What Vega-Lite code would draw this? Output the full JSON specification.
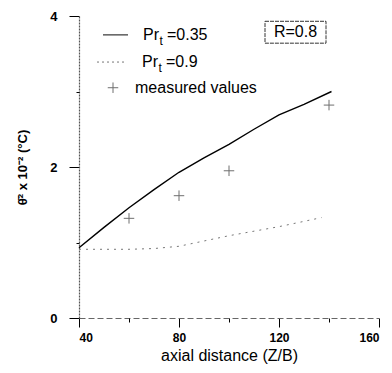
{
  "$schema": "https://vega.github.io/schema/vega-lite/v6.json",
  "width": 300,
  "height": 302,
  "autosize": {"type": "none"},
  "padding": {"left": 79, "top": 16, "right": 13, "bottom": 55},
  "background": "white",
  "config": {
    "view": {"stroke": null},
    "font": "Liberation Sans",
    "axis": {"grid": false, "labelColor": "black", "tickColor": "black", "titleColor": "black", "labelFont": "Liberation Sans", "titleFont": "Liberation Sans", "ticks": true, "tickWidth": 1}
  },
  "resolve": {"axis": {"x": "independent", "y": "independent"}},
  "datasets": {
    "solid": [
      {"z": 40, "v": 0.93}, {"z": 50, "v": 1.2}, {"z": 60, "v": 1.46}, {"z": 70, "v": 1.7},
      {"z": 80, "v": 1.93}, {"z": 90, "v": 2.12}, {"z": 100, "v": 2.3}, {"z": 110, "v": 2.5},
      {"z": 120, "v": 2.69}, {"z": 130, "v": 2.83}, {"z": 141, "v": 3.0}
    ],
    "dotted": [
      {"z": 40, "v": 0.91}, {"z": 50, "v": 0.91}, {"z": 60, "v": 0.91}, {"z": 70, "v": 0.92},
      {"z": 80, "v": 0.95}, {"z": 90, "v": 1.02}, {"z": 100, "v": 1.09}, {"z": 110, "v": 1.15},
      {"z": 120, "v": 1.21}, {"z": 130, "v": 1.28}, {"z": 137, "v": 1.33}
    ],
    "measured": [
      {"z": 60, "v": 1.32}, {"z": 80, "v": 1.62}, {"z": 100, "v": 1.95}, {"z": 140, "v": 2.82}
    ],
    "legendSolid": [{"x": 49.6, "x2": 59.6, "y": 3.75}],
    "legendDotted": [{"x": 47.2, "x2": 59.2, "y": 3.39}],
    "legendCross": [{"x": 53.6, "y": 3.05}],
    "legendMain": [
      {"x": 65.6, "y": 3.75, "t": "Pr"},
      {"x": 75.2, "y": 3.75, "t": "=0.35"},
      {"x": 65.2, "y": 3.39, "t": "Pr"},
      {"x": 74.8, "y": 3.39, "t": "=0.9"},
      {"x": 62.4, "y": 3.05, "t": "measured values"}
    ],
    "legendSub": [
      {"x": 72.2, "y": 3.67, "t": "t"},
      {"x": 71.8, "y": 3.31, "t": "t"}
    ],
    "box": [{"x": 114.4, "x2": 138.8, "y": 3.93, "y2": 3.64, "cx": 126.6, "cy": 3.785, "t": "R=0.8"}]
  },
  "layer": [
    {
      "data": {"name": "solid"},
      "mark": {"type": "line", "color": "black", "strokeWidth": 1.4},
      "encoding": {
        "x": {
          "field": "z", "type": "quantitative",
          "scale": {"domain": [40, 160], "nice": false},
          "axis": {
            "orient": "bottom",
            "values": [40, 80, 120, 160],
            "format": "d",
            "tickSize": 9,
            "labelPadding": 5,
            "labelFontSize": 12, "labelFontWeight": "bold",
            "domainColor": "#666", "domainDash": [6, 3], "domainWidth": 1,
            "title": "axial distance (Z/B)", "titleFontSize": 16, "titleFontWeight": "normal", "titlePadding": 4
          }
        },
        "y": {
          "field": "v", "type": "quantitative",
          "scale": {"domain": [0, 4], "nice": false},
          "axis": {
            "orient": "left",
            "values": [0, 2, 4],
            "format": "d",
            "tickSize": 10,
            "labelPadding": 12,
            "labelFontSize": 13, "labelFontWeight": "bold",
            "domainColor": "#555", "domainDash": [2, 1], "domainWidth": 1.2,
            "title": "θ̄² x 10⁻² (°C)", "titleFontSize": 13, "titleFontWeight": "bold", "titlePadding": 20
          }
        }
      }
    },
    {
      "data": {"name": "dotted"},
      "mark": {"type": "line", "color": "#777", "strokeWidth": 1, "strokeDash": [2, 5]},
      "encoding": {
        "x": {"field": "z", "type": "quantitative", "axis": {"orient": "bottom", "values": [60, 100, 140], "tickSize": 4, "labels": false, "domain": false, "title": null}},
        "y": {"field": "v", "type": "quantitative", "axis": {"orient": "left", "values": [1, 3], "tickSize": 3, "labels": false, "domain": false, "title": null}}
      }
    },
    {
      "data": {"name": "measured"},
      "mark": {"type": "point", "shape": "M-1,0L1,0M0,-1L0,1", "filled": false, "color": "#333", "strokeWidth": 1, "size": 110},
      "encoding": {"x": {"field": "z", "type": "quantitative", "axis": null}, "y": {"field": "v", "type": "quantitative", "axis": null}}
    },
    {
      "data": {"name": "legendSolid"},
      "mark": {"type": "rule", "color": "#333", "strokeWidth": 1.2},
      "encoding": {"x": {"field": "x", "type": "quantitative", "axis": null}, "x2": {"field": "x2"}, "y": {"field": "y", "type": "quantitative", "axis": null}}
    },
    {
      "data": {"name": "legendDotted"},
      "mark": {"type": "rule", "color": "#777", "strokeWidth": 1, "strokeDash": [2, 3]},
      "encoding": {"x": {"field": "x", "type": "quantitative", "axis": null}, "x2": {"field": "x2"}, "y": {"field": "y", "type": "quantitative", "axis": null}}
    },
    {
      "data": {"name": "legendCross"},
      "mark": {"type": "point", "shape": "M-1,0L1,0M0,-1L0,1", "filled": false, "color": "#333", "strokeWidth": 1, "size": 110},
      "encoding": {"x": {"field": "x", "type": "quantitative", "axis": null}, "y": {"field": "y", "type": "quantitative", "axis": null}}
    },
    {
      "data": {"name": "legendMain"},
      "mark": {"type": "text", "align": "left", "baseline": "middle", "fontSize": 16, "color": "black"},
      "encoding": {"x": {"field": "x", "type": "quantitative", "axis": null}, "y": {"field": "y", "type": "quantitative", "axis": null}, "text": {"field": "t"}}
    },
    {
      "data": {"name": "legendSub"},
      "mark": {"type": "text", "align": "left", "baseline": "middle", "fontSize": 12, "color": "black"},
      "encoding": {"x": {"field": "x", "type": "quantitative", "axis": null}, "y": {"field": "y", "type": "quantitative", "axis": null}, "text": {"field": "t"}}
    },
    {
      "data": {"name": "box"},
      "mark": {"type": "rect", "fill": null, "stroke": "#333", "strokeWidth": 1, "strokeDash": [4, 1]},
      "encoding": {"x": {"field": "x", "type": "quantitative", "axis": null}, "x2": {"field": "x2"}, "y": {"field": "y", "type": "quantitative", "axis": null}, "y2": {"field": "y2"}}
    },
    {
      "data": {"name": "box"},
      "mark": {"type": "text", "align": "center", "baseline": "middle", "fontSize": 16, "color": "black"},
      "encoding": {"x": {"field": "cx", "type": "quantitative", "axis": null}, "y": {"field": "cy", "type": "quantitative", "axis": null}, "text": {"field": "t"}}
    }
  ]
}
